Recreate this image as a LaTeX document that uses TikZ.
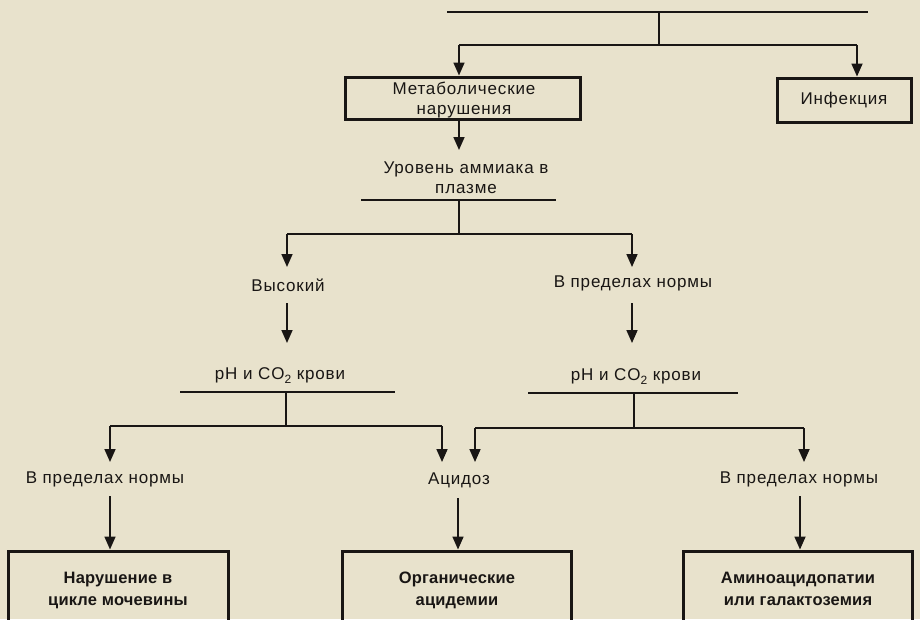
\documentclass[tikz,border=0pt]{standalone}
\usepackage{fontspec}
\setmainfont{Liberation Sans}[LetterSpace=5]
\newfontfamily\boxfont{Liberation Sans}[LetterSpace=1]
\usetikzlibrary{arrows.meta}
\definecolor{paper}{RGB}{232,226,204}
\definecolor{ink}{RGB}{25,22,20}
\begin{document}
\begin{tikzpicture}[x=1pt,y=-1pt,
  ln/.style={draw=ink,line width=1.7pt},
  arr/.style={ln,-{Triangle[length=13pt,width=11pt]}},
  box/.style={draw=ink,line width=3pt,inner sep=0pt,align=center,text=ink},
  lbl/.style={align=center,inner sep=0pt,font=\fontsize{17}{20}\selectfont,text=ink},
  bt/.style={font=\boxfont\fontsize{16.5}{22}\selectfont\bfseries}]
\fill[paper] (0,0) rectangle (920,619);
\useasboundingbox (0,0) rectangle (920,619);
% top bracket
\coordinate (t1) at (447,12); \coordinate (t2) at (868,12);
\coordinate (t3) at (659,12); \coordinate (t4) at (659,45);
\coordinate (t5) at (459,45); \coordinate (t6) at (857,45);
\draw[ln] (t1) -- (t2);
\draw[ln] (t3) -- (t4);
\draw[ln] (t5) -- (t6);
\node[box,minimum width=235pt,minimum height=42pt] (met) at (463,98) {};
\node[lbl] (metT) at (464,100) {Метаболические\\нарушения};
\node[box,lbl,draw=ink,line width=3pt,minimum width=134pt,minimum height=44pt] (inf) at (844,100) {Инфекция};
\draw[arr] (t5) -- (t5 |- met.north);
\draw[arr] (t6) -- (t6 |- inf.north);
% ammonia
\node[lbl] (amm) at (466,178) {Уровень аммиака в\\плазме};
\coordinate (m0) at (459,120);
\draw[arr] (m0) -- (459,150);
\coordinate (a1) at (361,200); \coordinate (a2) at (556,200);
\coordinate (a3) at (459,200); \coordinate (a4) at (459,234);
\coordinate (a5) at (287,234); \coordinate (a6) at (632,234);
\draw[ln] (a1) -- (a2);
\draw[ln] (a3) -- (a4);
\draw[ln] (a5) -- (a6);
\node[lbl,anchor=base] (hi) at (288,291) {Высокий};
\node[lbl,anchor=base] (nor) at (633,287) {В пределах нормы};
\draw[arr] (a5) -- (287,267);
\draw[arr] (a6) -- (632,267);
% pH
\node[lbl,anchor=base] (phl) at (280,379) {pH и CO\raisebox{-0.45ex}{\fontsize{12}{12}\selectfont 2} крови};
\node[lbl,anchor=base] (phr) at (636,380) {pH и CO\raisebox{-0.45ex}{\fontsize{12}{12}\selectfont 2} крови};
\draw[arr] (287,303) -- (287,343);
\draw[arr] (632,303) -- (632,343);
\coordinate (l1) at (180,392); \coordinate (l2) at (395,392);
\coordinate (l3) at (286,392); \coordinate (l4) at (286,426);
\coordinate (l5) at (110,426); \coordinate (l6) at (442,426);
\draw[ln] (l1) -- (l2);
\draw[ln] (l3) -- (l4);
\draw[ln] (l5) -- (l6);
\coordinate (r1) at (528,393); \coordinate (r2) at (738,393);
\coordinate (r3) at (634,393); \coordinate (r4) at (634,428);
\coordinate (r5) at (475,428); \coordinate (r6) at (804,428);
\draw[ln] (r1) -- (r2);
\draw[ln] (r3) -- (r4);
\draw[ln] (r5) -- (r6);
\node[lbl,anchor=base] (nl) at (105,483) {В пределах нормы};
\node[lbl,anchor=base] (aci) at (459,484) {Ацидоз};
\node[lbl,anchor=base] (nr) at (799,483) {В пределах нормы};
\draw[arr] (l5) -- (110,462);
\draw[arr] (l6) -- (442,462);
\draw[arr] (r5) -- (475,462);
\draw[arr] (r6) -- (804,462);
% bottom boxes
\node[box,bt,minimum width=220pt,minimum height=80pt,text depth=5pt] (urea) at (118,591) {Нарушение в\\цикле мочевины};
\node[box,bt,minimum width=229pt,minimum height=80pt,text depth=5pt] (org) at (457,591) {Органические\\ацидемии};
\node[box,bt,minimum width=229pt,minimum height=80pt,text depth=5pt] (amino) at (798,591) {Аминоацидопатии\\или галактоземия};
\coordinate (u0) at (110,496); \coordinate (o0) at (458,498); \coordinate (g0) at (800,496);
\draw[arr] (u0) -- (u0 |- urea.north);
\draw[arr] (o0) -- (o0 |- org.north);
\draw[arr] (g0) -- (g0 |- amino.north);
\end{tikzpicture}
\end{document}
